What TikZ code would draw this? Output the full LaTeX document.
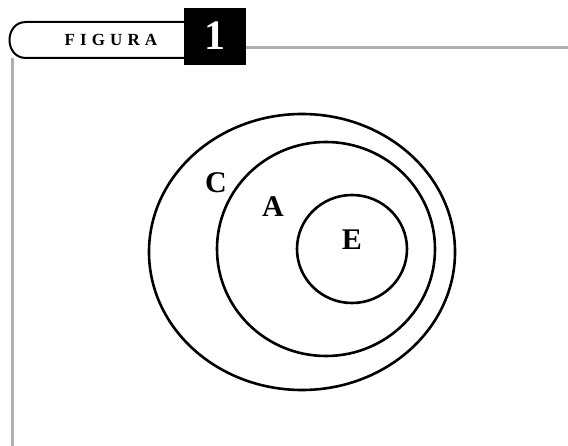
\documentclass[tikz,border=0pt]{standalone}
\usepackage{fontspec}
\setmainfont{Liberation Serif}
\newfontfamily\tagfont[LetterSpace=30]{Liberation Serif}
\usetikzlibrary{positioning}
\definecolor{rulegray}{RGB}{176,176,180}

\begin{document}
\begin{tikzpicture}[x=1pt, y=-1pt,
    setline/.style={black, line width=2.6pt},
    setlabel/.style={font=\fontsize{30}{32}\selectfont\bfseries, inner sep=0pt}]
  \useasboundingbox (0,0) rectangle (568,446);
  % header: tab, number box and grey rules
  \draw[rulegray, line width=3pt] (12,58) -- (12,446);
  \draw[rulegray, line width=3pt] (246,47.5) -- (568,47.5);
  \draw[black, line width=2pt]
    (184,22) -- (26,22) .. controls (4,22) and (4,58) .. (26,58) -- (184,58);
  \fill[black] (184,8) rectangle (246,65);
  \node (tag) at (111,40) {\tagfont\fontsize{17}{19}\selectfont\bfseries FIGURA};
  \node[white, font=\fontsize{42}{44}\selectfont\bfseries] (num) at (215,36) {1};
  % nested sets
  \draw[setline] (302,252) ellipse [x radius=153, y radius=138];
  \draw[setline] (326,249) ellipse [x radius=109, y radius=107];
  \draw[setline] (352,249) ellipse [x radius=55, y radius=54];
  \node[setlabel] (lblC) at (216,183) {C};
  \node[setlabel] (lblA) at (273,207) {A};
  \node[setlabel] (lblE) at (352,240) {E};
\end{tikzpicture}
\end{document}
